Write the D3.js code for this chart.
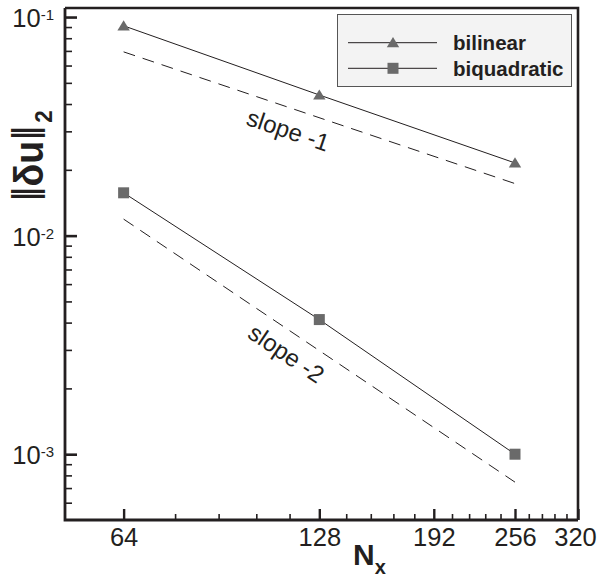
<!DOCTYPE html>
<html>
<head>
<meta charset="utf-8">
<script src="https://cdn.jsdelivr.net/npm/d3@7"></script>
<style>
  body { margin: 0; background: #fff; }
  svg text { font-family: "Liberation Sans", Arial, Helvetica, sans-serif; fill: #231f20; }
</style>
</head>
<body>
<svg id="chart" width="600" height="579"></svg>
<script>
// grid sizes and error norms
const nx = [64, 128, 256];
const bilinear = [0.0912, 0.0440, 0.0215];
const biquadratic = [0.0157, 0.00413, 0.00100];

// dashed reference lines (start / end values at nx[0] and nx[2])
const refNames = ["slope -1", "slope -2"];
const refStart = [0.0693, 0.0119];
const refEnd = [0.0173, 0.000745];
const refLabelPos = [[114.6, 0.0304], [113.9, 0.00289]];

const xTicks = [64, 128, 192, 256, 320];
const xMinor = [76.8, 89.6, 102.4, 115.2, 140.8, 153.6, 166.4, 179.2,
                204.8, 217.6, 230.4, 243.2, 268.8, 281.6, 294.4, 307.2];
const yExp = [-3, -2, -1];
const yMinor = [6e-4, 7e-4, 8e-4, 9e-4,
                2e-3, 3e-3, 4e-3, 5e-3, 6e-3, 7e-3, 8e-3, 9e-3,
                2e-2, 3e-2, 4e-2, 5e-2, 6e-2, 7e-2, 8e-2, 9e-2];

const seriesNames = ["bilinear", "biquadratic"];
const seriesVals = [bilinear, biquadratic];

const margins = {top: 8, right: 22, bottom: 59, left: 65};
const ink = "#231f20";
const markGrey = "#6a6a6a";

let svg = d3.select("#chart");
let W = 600, H = 579;
let x = d3.scaleLog().base(2).domain([52, 320]).range([margins.left, W - margins.right]);
let y = d3.scaleLog().domain([5e-4, 0.11]).range([H - margins.bottom, margins.top]);

// frame (top + right)
svg.append("path")
    .attr("d", `M${margins.left},${margins.top}H${W - margins.right}V${H - margins.bottom}`)
    .attr("fill", "none").attr("stroke", ink).attr("stroke-width", 2.6);

// x axis
let xAxisG = svg.append("g").attr("transform", `translate(0,${H - margins.bottom})`);
xAxisG.append("g")
    .call(d3.axisBottom(x).tickValues(xMinor).tickSize(-6).tickFormat(""))
    .call(g => g.select(".domain").remove());
xAxisG.append("g")
    .call(d3.axisBottom(x).tickValues(xTicks).tickSize(-11).tickPadding(8).tickFormat(d3.format("d")))
    .call(g => g.select(".domain").remove())
    .selectAll("text").style("font-size", "25.5px").attr("fill", ink)
    .attr("dx", d => d === 320 ? -3 : 0);
xAxisG.selectAll("line").attr("stroke", ink).attr("stroke-width", 1.6);
xAxisG.selectAll("g.tick").filter(d => xTicks.includes(d)).select("line").attr("stroke-width", 2.4);

// y axis
let yAxisG = svg.append("g").attr("transform", `translate(${margins.left},0)`);
yAxisG.append("g")
    .call(d3.axisLeft(y).tickValues(yMinor).tickSize(-7).tickFormat(""))
    .call(g => g.select(".domain").remove());
let yMajor = yAxisG.append("g")
    .call(d3.axisLeft(y).tickValues(yExp.map(e => Math.pow(10, e))).tickSize(-12).tickFormat(""))
    .call(g => g.select(".domain").remove());
yAxisG.selectAll("line").attr("stroke", ink).attr("stroke-width", 1.6);
yMajor.selectAll("line").attr("stroke-width", 2.6);
yMajor.selectAll("g.tick").each(function (d, i) {
    let t = d3.select(this).append("text")
        .attr("x", -11).attr("dy", "0.38em")
        .attr("text-anchor", "end").style("font-size", "25.5px");
    t.append("tspan").text("10");
    t.append("tspan").text(String(yExp[i])).style("font-size", "15px").attr("dy", -7);
});

// axis lines (left + bottom)
svg.append("path")
    .attr("d", `M${margins.left},${margins.top}V${H - margins.bottom}H${W - margins.right}`)
    .attr("fill", "none").attr("stroke", ink).attr("stroke-width", 2.8);

// axis titles
let xt = svg.append("text")
    .attr("x", 353).attr("y", 565)
    .style("font-size", "30px").style("font-weight", "bold");
xt.append("tspan").text("N");
xt.append("tspan").text("x").style("font-size", "20px").attr("dy", 9);

// y title: tall, narrow glyphs -> big font squeezed along the baseline
let yt = svg.append("text")
    .style("font-size", "40px").style("font-weight", "bold");
let bar = "\u2016";
yt.append("tspan").text(bar).style("font-family", "'DejaVu Sans'").style("font-size", "33px").attr("dy", -6);
yt.append("tspan").text("\u03b4u").attr("dy", 6);
yt.append("tspan").text(bar).style("font-family", "'DejaVu Sans'").style("font-size", "33px").attr("dy", -6);
yt.append("tspan").text("2").style("font-size", "24px").attr("dy", 15).attr("dx", 3);
let ytLen = yt.node().getComputedTextLength();
let sx = 89 / ytLen;
yt.attr("transform", `translate(43,202) rotate(-90) scale(${sx},1)`);

// reference slopes
let line = d3.line().x(d => x(d[0])).y(d => y(d[1]));
refNames.forEach((name, i) => {
    let pts = [[nx[0], refStart[i]], [nx[2], refEnd[i]]];
    svg.append("path").attr("d", line(pts))
        .attr("fill", "none").attr("stroke", ink).attr("stroke-width", 1)
        .attr("stroke-dasharray", "12,8");
    let ang = Math.atan2(y(pts[1][1]) - y(pts[0][1]), x(pts[1][0]) - x(pts[0][0])) * 180 / Math.PI;
    let lx = x(refLabelPos[i][0]), ly = y(refLabelPos[i][1]);
    svg.append("text")
        .attr("transform", `translate(${lx},${ly}) rotate(${ang})`)
        .attr("text-anchor", "middle").attr("dy", "0.35em")
        .style("font-size", "24px")
        .text(name);
});

// markers
function drawMarker(g, kind, cx, cy) {
    if (kind === 0) {
        g.append("path")
            .attr("d", `M${cx - 6.2},${cy + 4.6}L${cx + 6.2},${cy + 4.6}L${cx},${cy - 5.6}Z`)
            .attr("fill", markGrey);
    } else {
        g.append("rect")
            .attr("x", cx - 5.5).attr("y", cy - 5.5).attr("width", 11).attr("height", 11)
            .attr("fill", markGrey);
    }
}

seriesVals.forEach((vals, s) => {
    let pts = nx.map((n, i) => [n, vals[i]]);
    svg.append("path").attr("d", line(pts))
        .attr("fill", "none").attr("stroke", ink).attr("stroke-width", 1);
    let g = svg.append("g");
    pts.forEach(p => drawMarker(g, s, x(p[0]), y(p[1])));
});

// legend
let leg = svg.append("g");
leg.append("rect")
    .attr("x", 337.5).attr("y", 14.5).attr("width", 234).attr("height", 72)
    .attr("fill", "#f3f3f3").attr("stroke", "#555").attr("stroke-width", 1);
seriesNames.forEach((name, i) => {
    let ly = 42.7 + i * 25.6;
    leg.append("line")
        .attr("x1", 348).attr("x2", 437).attr("y1", ly).attr("y2", ly)
        .attr("stroke", ink).attr("stroke-width", 1);
    drawMarker(leg, i, 393, ly);
    leg.append("text")
        .attr("x", 453).attr("y", ly + 7.3)
        .style("font-size", "20.5px").style("font-weight", "bold")
        .text(name);
});
</script>
</body>
</html>
